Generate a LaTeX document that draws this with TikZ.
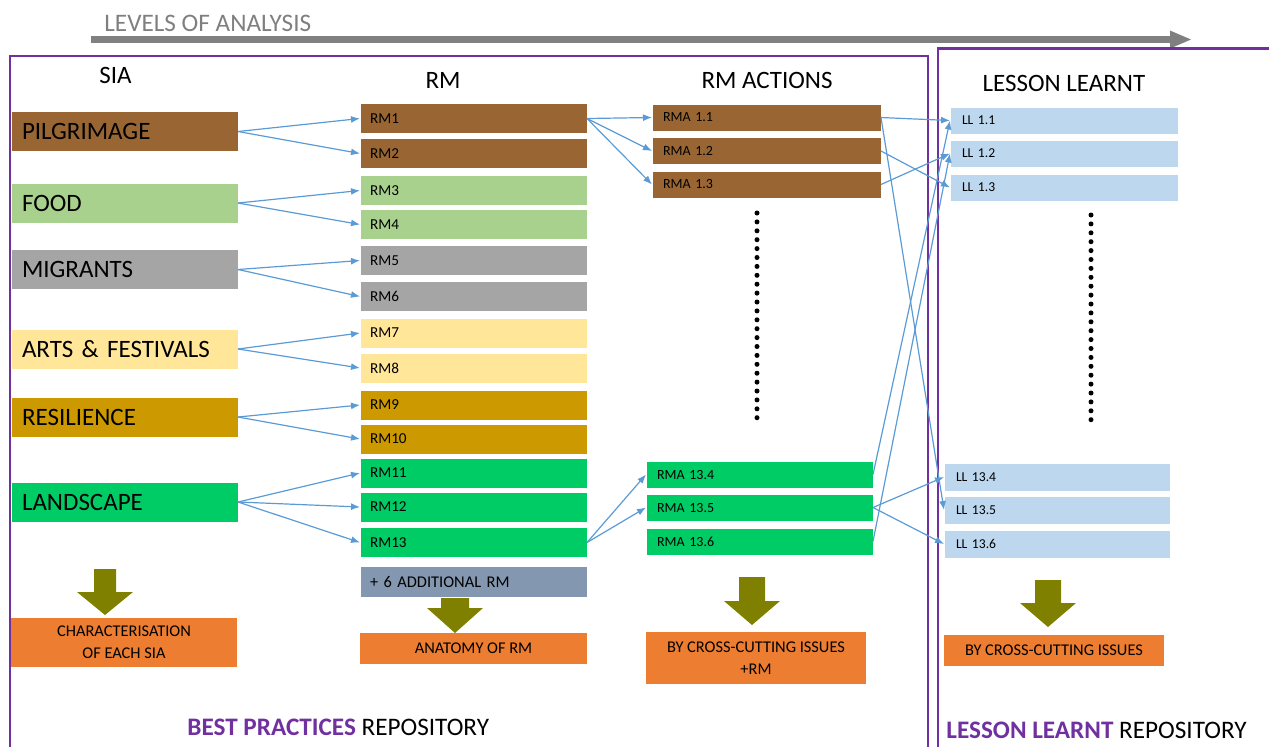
\documentclass[tikz,border=0pt]{standalone}
\usepackage{fontspec}
\setmainfont{Carlito}
\usetikzlibrary{arrows.meta}
\definecolor{brownc}{HTML}{996633}
\definecolor{foodc}{HTML}{A9D18E}
\definecolor{migc}{HTML}{A5A5A5}
\definecolor{artc}{HTML}{FFE699}
\definecolor{resc}{HTML}{CC9900}
\definecolor{landc}{HTML}{00CC66}
\definecolor{addc}{HTML}{8497B0}
\definecolor{llc}{HTML}{BDD7EE}
\definecolor{orangec}{HTML}{ED7D31}
\definecolor{olivec}{HTML}{808000}
\definecolor{purplec}{HTML}{7030A0}
\definecolor{connc}{HTML}{5B9BD5}
\definecolor{grayc}{HTML}{808080}
\definecolor{textgray}{HTML}{7F7F7F}
\tikzset{
  box/.style={rectangle, draw=white, line width=0.4pt, inner ysep=0pt, outer sep=0pt, align=left},
  sia/.style={box, minimum height=20pt, text width=102.5pt, inner xsep=5.5pt, font=\fontsize{12.5}{14}\selectfont},
  rmbox/.style={box, minimum height=15pt, text width=103.5pt, inner xsep=5pt, font=\fontsize{7.6}{9}\selectfont},
  rmabox/.style={box, minimum height=13.5pt, text width=103.5pt, inner xsep=5.5pt, font=\fontsize{7}{8}\selectfont},
  rmagbox/.style={rmabox, text width=102.5pt},
  llbox/.style={box, fill=llc, minimum height=13.5pt, text width=102pt, inner xsep=6pt, font=\fontsize{6.8}{8}\selectfont},
  llgbox/.style={llbox, text width=101pt, minimum height=14pt},
  obox/.style={rectangle, fill=orangec, align=center, inner sep=0pt, font=\fontsize{8.2}{11}\selectfont},
  hdr/.style={anchor=base, font=\fontsize{12.5}{14}\selectfont},
  conn/.style={draw=connc, line width=0.6pt, -{Latex[length=4.5pt,width=3.5pt]}},
  frame/.style={draw=purplec, line width=1.2pt},
  dots/.style={line width=2.5pt, line cap=round, dash pattern=on 0pt off 4.45pt},
  repo/.style={anchor=base west, inner sep=0pt, font=\fontsize{12.6}{14}\selectfont},
}
\newcommand{\olivearrow}[5]{% cx, shaft top, head base, tip, shaft half
  \fill[olivec] (#1-#5,#2) -- (#1+#5,#2) -- (#1+#5,#3) -- (#1+28,#3) -- (#1,#4) -- (#1-28,#3) -- (#1-#5,#3) -- cycle;}
\begin{document}
\begin{tikzpicture}[x=0.5pt,y=-0.5pt]
\useasboundingbox (0,0) rectangle (1269,746);

% levels of analysis
\node[anchor=base west, inner sep=0pt, text=textgray, font=\fontsize{12.6}{14}\selectfont] (lev) at (104,31) {LEVELS OF ANALYSIS};
\coordinate (levs) at (91,39.5);
\coordinate (leve) at (1172,39.5);
\draw[grayc, line width=3.5pt] (levs) -- (leve);
\fill[grayc] (1170,30.5) -- (1191,39.5) -- (1170,48.5) -- cycle;

% frames
\draw[frame] (10,760) -- (10,56) -- (928,56) -- (928,760);
\draw[frame] (938,760) -- (938,48.5) -- (1275,48.5);

% headers
\node[hdr] (hsia) at (115.5,83) {SIA};
\node[hdr] (hrm) at (443,88) {RM};
\node[hdr] (hrma) at (767,88) {RM ACTIONS};
\node[hdr] (hll) at (1064,91) {LESSON LEARNT};

% SIA
\node[sia, fill=brownc] (pil) at (124.5,131.5) {PILGRIMAGE};
\node[sia, fill=foodc] (food) at (124.5,203) {FOOD};
\node[sia, fill=migc] (mig) at (124.5,269.5) {MIGRANTS};
\node[sia, fill=artc] (art) at (124.5,349) {ARTS \& FESTIVALS};
\node[sia, fill=resc] (res) at (124.5,417) {RESILIENCE};
\node[sia, fill=landc] (land) at (124.5,502) {LANDSCAPE};

% RM
\node[rmbox, fill=brownc] (rm1) at (473.5,118.5) {RM1};
\node[rmbox, fill=brownc] (rm2) at (473.5,153.5) {RM2};
\node[rmbox, fill=foodc] (rm3) at (473.5,190.5) {RM3};
\node[rmbox, fill=foodc] (rm4) at (473.5,224.5) {RM4};
\node[rmbox, fill=migc] (rm5) at (473.5,260.5) {RM5};
\node[rmbox, fill=migc] (rm6) at (473.5,296.5) {RM6};
\node[rmbox, fill=artc] (rm7) at (473.5,333) {RM7};
\node[rmbox, fill=artc] (rm8) at (473.5,368) {RM8};
\node[rmbox, fill=resc] (rm9) at (473.5,405) {RM9};
\node[rmbox, fill=resc] (rm10) at (473.5,439) {RM10};
\node[rmbox, fill=landc] (rm11) at (473.5,473) {RM11};
\node[rmbox, fill=landc] (rm12) at (473.5,507) {RM12};
\node[rmbox, fill=landc] (rm13) at (473.5,542.5) {RM13};

% olive arrows
\olivearrow{105}{569}{592}{615}{11}
\olivearrow{455}{590}{608}{633}{14}
\olivearrow{752}{577}{601}{625}{13}
\olivearrow{1048}{580}{603}{627}{13}

\node[rmbox, fill=addc, minimum height=15.5pt, font=\fontsize{8.2}{10}\selectfont] (add) at (473.5,582) {+ 6 ADDITIONAL RM};

% RMA
\node[rmabox, fill=brownc] (rma11) at (766.5,117.5) {RMA 1.1};
\node[rmabox, fill=brownc] (rma12) at (766.5,151) {RMA 1.2};
\node[rmabox, fill=brownc] (rma13) at (766.5,184.5) {RMA 1.3};
\node[rmagbox, fill=landc] (rma134) at (759.5,474.5) {RMA 13.4};
\node[rmagbox, fill=landc] (rma135) at (759.5,507.5) {RMA 13.5};
\node[rmagbox, fill=landc] (rma136) at (759.5,541.5) {RMA 13.6};

% LL
\node[llbox] (ll11) at (1064,120.5) {LL 1.1};
\node[llbox] (ll12) at (1064,153.5) {LL 1.2};
\node[llbox] (ll13) at (1064,187.5) {LL 1.3};
\node[llgbox] (ll134) at (1057,477) {LL 13.4};
\node[llgbox] (ll135) at (1057,510) {LL 13.5};
\node[llgbox] (ll136) at (1057,544) {LL 13.6};

% dots
\coordinate (d1a) at (757,213);
\coordinate (d1b) at (757,425);
\coordinate (d2a) at (1091,215);
\coordinate (d2b) at (1091,427);
\draw[dots] (d1a) -- (d1b);
\draw[dots] (d2a) -- (d2b);

% orange boxes
\node[obox, minimum width=113pt, minimum height=24.5pt] (o1) at (124,642.5) {CHARACTERISATION\\OF EACH SIA};
\node[obox, minimum width=113.5pt, minimum height=15.5pt] (o2) at (473.5,648.5) {ANATOMY OF RM};
\node[obox, minimum width=110pt, minimum height=26pt] (o3) at (756,658) {BY CROSS-CUTTING ISSUES\\+RM};
\node[obox, minimum width=110pt, minimum height=15.5pt] (o4) at (1054,650.5) {BY CROSS-CUTTING ISSUES};

% connectors SIA -> RM
\draw[conn] (pil.east) -- (rm1.west);
\draw[conn] (pil.east) -- (rm2.west);
\draw[conn] (food.east) -- (rm3.west);
\draw[conn] (food.east) -- (rm4.west);
\draw[conn] (mig.east) -- (rm5.west);
\draw[conn] (mig.east) -- (rm6.west);
\draw[conn] (art.east) -- (rm7.west);
\draw[conn] (art.east) -- (rm8.west);
\draw[conn] (res.east) -- (rm9.west);
\draw[conn] (res.east) -- (rm10.west);
\draw[conn] (land.east) -- (rm11.west);
\draw[conn] (land.east) -- (rm12.west);
\draw[conn] (land.east) -- (rm13.west);

% RM -> RMA
\draw[conn] (rm1.east) -- (rma11.west);
\draw[conn] (rm1.east) -- (rma12.west);
\draw[conn] (rm1.east) -- (rma13.west);
\draw[conn] (rm13.east) -- (rma134.west);
\draw[conn] (rm13.east) -- (rma135.west);

% RMA -> LL
\draw[conn] (rma11.east) -- (ll11.west);
\draw[conn] (rma11.east) -- (ll135.west);
\draw[conn] (rma12.east) -- (ll13.west);
\draw[conn] (rma13.east) -- (ll12.west);
\draw[conn] (rma134.east) -- (ll11.west);
\draw[conn] (rma136.east) -- (ll12.west);
\draw[conn] (rma135.east) -- (ll134.west);
\draw[conn] (rma135.east) -- (ll136.west);

% repository labels
\node[repo] (bp) at (187,735) {\textcolor{purplec}{\textbf{BEST PRACTICES}} REPOSITORY};
\node[repo] (llr) at (946,738) {\textcolor{purplec}{\textbf{LESSON LEARNT}} REPOSITORY};
\end{tikzpicture}
\end{document}
